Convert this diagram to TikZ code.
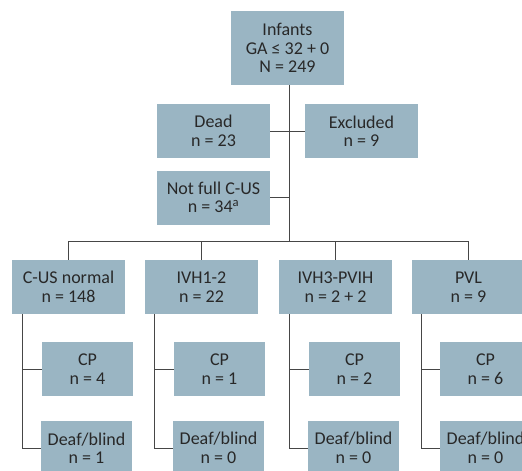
\documentclass[tikz,border=0pt]{standalone}
\usepackage{fontspec}
\setmainfont{Carlito}
\usepackage{xcolor}
\usepackage{tikz}
\usetikzlibrary{calc}

\definecolor{boxblue}{RGB}{154,181,195}
\definecolor{linegray}{RGB}{70,70,70}
\definecolor{txtgray}{RGB}{40,40,40}

\begin{document}
\begin{tikzpicture}[x=1pt,y=-1pt]
                \tikzstyle{every node}+=[inner sep=0pt]
                \tikzstyle{box}=[rectangle,fill=boxblue,text=txtgray,align=center,
                    font=\fontsize{18}{18.5}\selectfont]
                \tikzstyle{bigbox}=[box,minimum width=113pt,minimum height=54pt]
                \tikzstyle{smallbox}=[box,minimum width=91pt,minimum height=54pt]
                \tikzstyle{link}=[linegray,line width=1pt]
                \useasboundingbox (0,0) rectangle (522,471);
                \clip (0,0) rectangle (522,471);
                % top
                \node [bigbox,minimum height=74pt] (infants) at (287.5,48) {Infants\\GA ≤ 32 + 0\\N = 249};
                \node [bigbox] (dead) at (213.5,131) {Dead\\n = 23};
                \node [bigbox] (excl) at (361.5,131) {Excluded\\n = 9};
                \node [bigbox] (notfull) at (213.5,197.5) {Not full C-US\\n = 34\textsuperscript{a}};
                \coordinate (hub) at (289,241);
                % groups
                \node [bigbox] (normal) at (68.5,287) {C-US normal\\n = 148};
                \node [bigbox] (ivhA) at (201.5,287) {IVH1-2\\n = 22};
                \node [bigbox] (ivhB) at (335.5,287) {IVH3-PVIH\\n = 2 + 2};
                \node [bigbox] (pvl) at (468.5,287) {PVL\\n = 9};
                % outcomes
                \node [smallbox] (cpA) at (87.5,369) {CP\\n = 4};
                \node [smallbox] (cpB) at (219.5,369) {CP\\n = 1};
                \node [smallbox] (cpC) at (354.5,369) {CP\\n = 2};
                \node [smallbox] (cpD) at (485.5,369) {CP\\n = 6};
                \node [smallbox] (deafA) at (86.5,448) {Deaf/blind\\n = 1};
                \node [smallbox] (deafB) at (218.5,448) {Deaf/blind\\n = 0};
                \node [smallbox] (deafC) at (353.5,448) {Deaf/blind\\n = 0};
                \node [smallbox] (deafD) at (485.5,448) {Deaf/blind\\n = 0};
                % lines
                \draw [link] (infants.south -| hub) -- (hub);
                \draw [link] (dead.east) -- (excl.west);
                \draw [link] (notfull.east) -- (notfull.east -| hub);
                \draw [link] (normal.north) -- (normal.north |- hub) -- (pvl.north |- hub) -- (pvl.north);
                \draw [link] (ivhA.north) -- (ivhA.north |- hub);
                \draw [link] (ivhB.north) -- (ivhB.north |- hub);
                \draw [link] ([xshift=11pt]normal.south west) |- (deafA.west);
                \draw [link] ([xshift=11pt]normal.south west) |- (cpA.west);
                \draw [link] ([xshift=10pt]ivhA.south west) |- (deafB.west);
                \draw [link] ([xshift=10pt]ivhA.south west) |- (cpB.west);
                \draw [link] ([xshift=11pt]ivhB.south west) |- (deafC.west);
                \draw [link] ([xshift=11pt]ivhB.south west) |- (cpC.west);
                \draw [link] ([xshift=10pt]pvl.south west) |- (deafD.west);
                \draw [link] ([xshift=10pt]pvl.south west) |- (cpD.west);
            \end{tikzpicture}
\end{document}
